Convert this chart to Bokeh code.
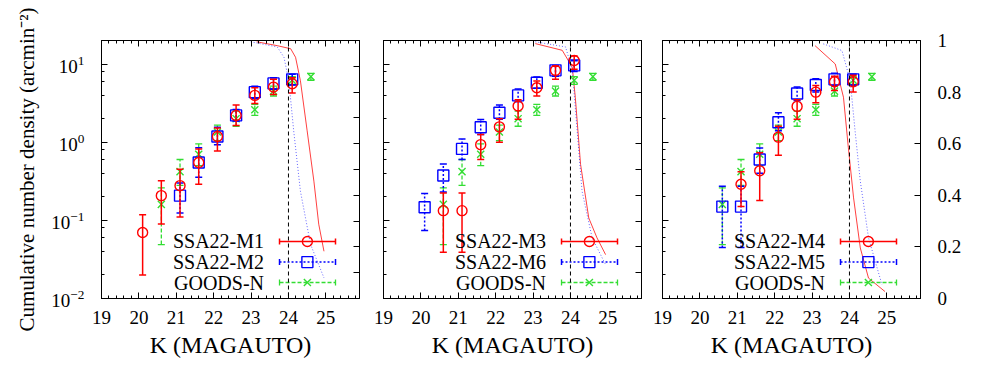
import numpy as np
from bokeh.plotting import figure
from bokeh.layouts import row
from bokeh.models import (Range1d, LinearAxis, SingleIntervalTicker, FixedTicker,
                          CustomJSTickFormatter, LogTickFormatter, Span, LinearScale)
from bokeh.core.properties import value
from bokeh.embed import file_html
from bokeh.resources import INLINE

FONT = "Liberation Serif"
RED = "#ff0000"
BLUE = "#0000ff"
GREEN = "#33dd33"

X_RANGE = (19.0, 25.9)
Y_RANGE = (0.01, 20.0)
K_LIMIT = 24.0

# ---------------- data ----------------
goods_k = [20.6, 21.1, 21.6, 22.1, 22.6, 23.1, 23.6, 24.1, 24.6]
goods_v = [0.16, 0.42, 0.70, 1.35, 2.0, 2.6, 4.5, 6.2, 6.9]
goods_lo = [0.049, 0.28, 0.50, 1.05, 1.6, 2.2, 3.9, 5.5, 6.2]
goods_hi = [0.26, 0.60, 0.95, 1.65, 2.5, 3.05, 5.2, 6.9, 7.6]

m1_k = [20.1, 20.6, 21.1, 21.6, 22.1, 22.6, 23.1, 23.6, 24.1]
m1_v = [0.070, 0.207, 0.278, 0.55, 1.18, 2.2, 3.97, 5.07, 5.6]
m1_lo = [0.020, 0.09, 0.11, 0.29, 0.77, 1.64, 3.13, 4.08, 4.25]
m1_hi = [0.118, 0.32, 0.45, 0.82, 1.52, 2.98, 4.97, 6.37, 6.67]

m2_k = [21.1, 21.6, 22.1, 22.6, 23.1, 23.6, 24.1]
m2_v = [0.207, 0.55, 1.18, 2.2, 4.37, 5.65, 6.37]
m2_lo = [0.124, 0.356, 0.93, 1.86, 3.59, 4.74, 5.38]
m2_hi = [0.30, 0.85, 1.55, 2.62, 5.2, 6.67, 7.38]

m3_k = [20.6, 21.1, 21.6, 22.1, 22.6, 23.1, 23.6, 24.1]
m3_v = [0.133, 0.133, 0.93, 1.57, 2.9, 4.97, 8.3, 11.1]
m3_lo = [0.039, 0.039, 0.6, 1.0, 1.96, 3.9, 6.4, 8.55]
m3_hi = [0.224, 0.224, 1.25, 2.0, 3.5, 6.05, 9.4, 12.7]

m6_k = [20.1, 20.6, 21.1, 21.6, 22.1, 22.6, 23.1, 23.6, 24.1]
m6_v = [0.147, 0.374, 0.82, 1.55, 2.38, 3.97, 5.77, 8.3, 9.6]
m6_lo = [0.074, 0.23, 0.6, 1.25, 1.96, 3.3, 4.9, 7.0, 8.0]
m6_hi = [0.22, 0.527, 1.1, 1.95, 2.98, 4.8, 6.8, 9.6, 11.0]

m4_k = [21.1, 21.6, 22.1, 22.6, 23.1, 23.6, 24.1]
m4_v = [0.29, 0.43, 1.16, 2.87, 4.37, 5.94, 5.94]
m4_lo = [0.15, 0.18, 0.68, 1.96, 3.2, 4.6, 4.4]
m4_hi = [0.42, 0.73, 1.6, 3.5, 5.3, 7.0, 7.2]

m5_k = [20.6, 21.1, 21.6, 22.1, 22.6, 23.1, 23.6, 24.1]
m5_v = [0.15, 0.15, 0.6, 1.8, 4.2, 5.38, 6.37, 6.37]
m5_lo = [0.045, 0.045, 0.4, 1.4, 3.4, 4.4, 5.3, 5.3]
m5_hi = [0.273, 0.273, 0.84, 2.38, 5.1, 6.5, 7.6, 7.4]

# completeness curves (right axis, 0..1)
c1_red_k = [23.15, 23.70, 24.06, 24.19, 24.32, 24.50, 24.68, 24.81, 24.95]
c1_red_f = [0.995, 0.98, 0.968, 0.935, 0.844, 0.65, 0.455, 0.288, 0.183]
c1_blue_k = [22.99, 23.70, 23.88, 24.01, 24.14, 24.32, 24.59, 24.95]
c1_blue_f = [0.995, 0.975, 0.935, 0.844, 0.65, 0.416, 0.21, 0.08]

c2_red_k = [23.06, 23.78, 24.05, 24.13, 24.27, 24.49, 24.71, 24.94]
c2_red_f = [0.988, 0.962, 0.896, 0.779, 0.52, 0.312, 0.235, 0.17]
c2_blue_k = [23.06, 23.87, 24.05, 24.18, 24.31, 24.58, 24.94]
c2_blue_f = [0.995, 0.975, 0.883, 0.65, 0.416, 0.235, 0.131]

c3_red_k = [23.08, 23.62, 23.84, 23.97, 24.11, 24.29, 24.51, 24.95]
c3_red_f = [0.98, 0.909, 0.78, 0.585, 0.39, 0.196, 0.079, 0.027]
c3_blue_k = [23.30, 23.80, 24.02, 24.15, 24.29, 24.51, 24.87]
c3_blue_f = [0.987, 0.961, 0.844, 0.65, 0.455, 0.235, 0.053]

y_ticks_major = [0.01, 0.1, 1, 10]
y_ticks_minor = [m * 10.0 ** e for e in (-2, -1, 0, 1) for m in (2, 4, 6, 8)]
comp_ticks_fine = [0, 0.1, 0.2, 0.3, 0.4, 0.5, 0.6, 0.7, 0.8, 0.9, 1]
comp_ticks_labeled = [0, 0.2, 0.4, 0.6, 0.8, 1]

FRAME = 258


def style_axis(ax, labels=True, size="19px"):
    ax.major_tick_in = 6
    ax.major_tick_out = 0
    ax.minor_tick_in = 3
    ax.minor_tick_out = 0
    ax.axis_line_color = "black"
    ax.major_tick_line_color = "black"
    ax.minor_tick_line_color = "black"
    ax.major_label_text_font = FONT
    ax.major_label_text_font_size = size
    ax.major_label_text_color = "black"
    ax.axis_label_text_font = FONT
    ax.axis_label_text_font_style = "normal"
    ax.axis_label_text_color = "black"
    if not labels:
        ax.formatter = CustomJSTickFormatter(code="return ''")
        ax.major_label_standoff = 0


def draw_series(p, k, v, lo, hi, color, dash, marker, size, lw):
    p.segment(x0=k, y0=lo, x1=k, y1=hi, line_color=color, line_width=lw, line_dash=dash)
    p.scatter(x=k + k, y=lo + hi, marker="dash", size=7, line_color=color, line_width=lw)
    p.scatter(x=k, y=v, marker=marker, size=size, line_color=color, fill_color=None,
              line_width=1.4)


def draw_legend(p, entries):
    x0, x1 = X_RANGE
    ly0, ly1 = np.log10(Y_RANGE[0]), np.log10(Y_RANGE[1])

    def X(f):
        return x0 + f * (x1 - x0)

    def Y(f):
        return 10 ** (ly1 - f * (ly1 - ly0))

    rows = [0.779, 0.859, 0.938]
    for (name, color, dash, marker, size, lw), r in zip(entries, rows):
        yy = Y(r)
        p.text(x=[X(0.630)], y=[yy], text=[name], text_font=value(FONT),
               text_font_size="20px", text_align="right", text_baseline="middle",
               text_color="black")
        p.segment(x0=[X(0.690)], y0=[yy], x1=[X(0.907)], y1=[yy], line_color=color,
                  line_width=lw, line_dash=dash)
        p.scatter(x=[X(0.690), X(0.907)], y=[yy, yy], marker="dash", angle=np.pi / 2,
                  size=6, line_color=color, line_width=lw)
        p.scatter(x=[X(0.798)], y=[yy], marker=marker, size=size, line_color=color,
                  fill_color=None, line_width=1.4)


def make_panel(first, last, series, curves, legend, bl, br):
    p = figure(frame_width=FRAME, frame_height=FRAME,
               x_range=Range1d(*X_RANGE), y_range=Range1d(*Y_RANGE),
               y_axis_type="log", output_backend="svg", toolbar_location=None,
               min_border_left=bl, min_border_right=br, min_border_top=40,
               min_border_bottom=72, background_fill_color="white",
               border_fill_color="white")
    p.outline_line_color = "black"
    p.outline_line_width = 1
    p.grid.visible = False
    p.extra_y_ranges = {"c": Range1d(0, 1)}
    p.extra_y_scales = {"c": LinearScale()}

    xa = p.xaxis[0]
    xa.ticker = SingleIntervalTicker(interval=1, num_minor_ticks=5)
    style_axis(xa)
    xa.major_label_standoff = 12
    xa.axis_label = "K (MAGAUTO)"
    xa.axis_label_text_font_size = "24px"
    xa.axis_label_standoff = 5

    ya = p.yaxis[0]
    ya.ticker = FixedTicker(ticks=y_ticks_major, minor_ticks=y_ticks_minor)
    if first:
        style_axis(ya)
        ya.formatter = LogTickFormatter()
        ya.major_label_standoff = 17
        ya.axis_label = "Cumulative number density (arcmin\u207b\u00b2)"
        ya.axis_label_text_font_size = "21px"
        ya.axis_label_standoff = 9
    else:
        style_axis(ya, labels=False)

    top = LinearAxis(ticker=SingleIntervalTicker(interval=1, num_minor_ticks=5))
    style_axis(top, labels=False)
    p.add_layout(top, "above")

    if last:
        ra = LinearAxis(y_range_name="c", ticker=FixedTicker(ticks=comp_ticks_labeled))
        style_axis(ra)
        ra.major_label_overrides = {0: "0", 1: "1"}
        ra.major_label_standoff = 17
    else:
        ra = LinearAxis(y_range_name="c", ticker=FixedTicker(ticks=comp_ticks_fine))
        style_axis(ra, labels=False)
    p.add_layout(ra, "right")

    for (ck, cf, color, dash) in curves:
        p.line(ck, cf, y_range_name="c", line_color=color, line_width=1, line_dash=dash,
               line_alpha=0.75)

    p.add_layout(Span(location=K_LIMIT, dimension="height", line_color="black",
                      line_width=1, line_dash="4 3"))

    for s in series:
        draw_series(p, *s)

    draw_legend(p, legend)
    return p


S_RED = (RED, "solid", "circle", 10, 1.5)
S_BLUE = (BLUE, "2 2", "square", 11, 1.5)
S_GREEN = (GREEN, "4 2", "x", 10, 1.3)

goods = (goods_k, goods_v, goods_lo, goods_hi) + S_GREEN

p1 = make_panel(True, False,
                [goods, (m2_k, m2_v, m2_lo, m2_hi) + S_BLUE, (m1_k, m1_v, m1_lo, m1_hi) + S_RED],
                [(c1_red_k, c1_red_f, RED, "solid"), (c1_blue_k, c1_blue_f, "#3333ff", "1 2")],
                [("SSA22-M1",) + S_RED, ("SSA22-M2",) + S_BLUE, ("GOODS-N",) + S_GREEN],
                101, 12)
p2 = make_panel(False, False,
                [goods, (m6_k, m6_v, m6_lo, m6_hi) + S_BLUE, (m3_k, m3_v, m3_lo, m3_hi) + S_RED],
                [(c2_red_k, c2_red_f, RED, "solid"), (c2_blue_k, c2_blue_f, "#3333ff", "1 2")],
                [("SSA22-M3",) + S_RED, ("SSA22-M6",) + S_BLUE, ("GOODS-N",) + S_GREEN],
                12, 10)
p3 = make_panel(False, True,
                [goods, (m5_k, m5_v, m5_lo, m5_hi) + S_BLUE, (m4_k, m4_v, m4_lo, m4_hi) + S_RED],
                [(c3_red_k, c3_red_f, RED, "solid"), (c3_blue_k, c3_blue_f, "#3333ff", "1 2")],
                [("SSA22-M4",) + S_RED, ("SSA22-M5",) + S_BLUE, ("GOODS-N",) + S_GREEN],
                11, 50)

layout = row(p1, p2, p3)
open("out.html", "w").write(file_html(layout, INLINE))
